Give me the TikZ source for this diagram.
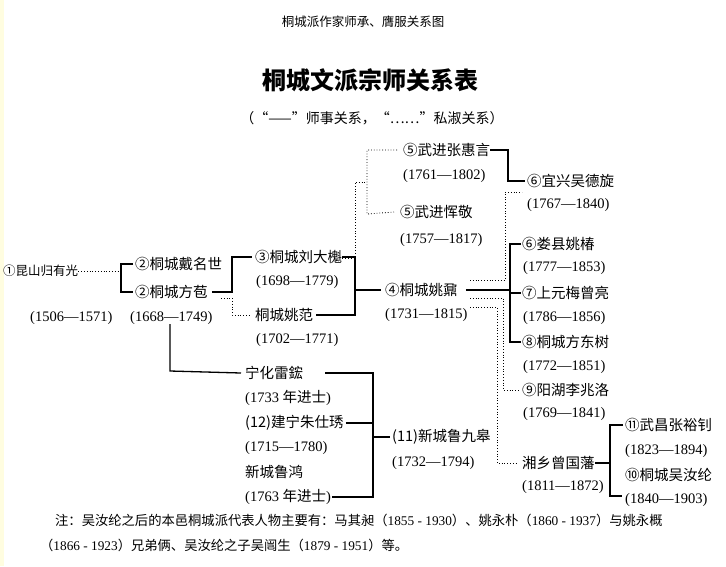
\documentclass[tikz,border=0pt]{standalone}
\usepackage{fontspec}
\setmainfont{Liberation Serif}
\newfontfamily\cjk{Noto Sans CJK SC}
\begin{document}
\begin{tikzpicture}[x=1pt,y=-1pt,
  nm/.style={anchor=west,inner sep=0pt,font=\cjk\fontsize{14.5}{14.5}\selectfont},
  dt/.style={anchor=west,inner sep=0pt,font=\fontsize{14.5}{14.5}\selectfont},
  sl/.style={draw,line width=1.3pt},
  dl/.style={draw,line width=0.8pt,dotted}]
\useasboundingbox[fill=white] (0,0) rectangle (726,566);
\fill[yellow!12] (0,0) rectangle (4,566);
\node[font=\cjk\fontsize{12.5}{12.5}\selectfont] (cap) at (363,22) {桐城派作家师承、膺服关系图};
\node[font=\cjk\bfseries\fontsize{24}{24}\selectfont] (title) at (370,80) {桐城文派宗师关系表};
\node[font=\cjk\fontsize{14}{14}\selectfont] (sub) at (372,118) {（“——”师事关系，“……”私淑关系）};
% left
\node[nm,font=\cjk\fontsize{12.5}{12.5}\selectfont] (gyg) at (3,271) {①昆山归有光};
\node[dt] (gygd) at (30,318) {(1506—1571)};
\node[nm] (dms) at (135,264) {②桐城戴名世};
\node[nm] (fb) at (135,292) {②桐城方苞};
\node[dt] (fbd) at (130,318) {(1668—1749)};
\node[nm] (ldk) at (255,257) {③桐城刘大櫆};
\node[dt] (ldkd) at (256,282) {(1698—1779)};
\node[nm] (yf) at (255,315) {桐城姚范};
\node[dt] (yfd) at (256,340) {(1702—1771)};
\node[nm] (yn) at (385,290) {④桐城姚鼐};
\node[dt] (ynd) at (385,315) {(1731—1815)};
\node[nm] (zhy) at (403,150) {⑤武进张惠言};
\node[dt] (zhyd) at (403,176) {(1761—1802)};
\node[nm] (yj) at (400,212) {⑤武进恽敬};
\node[dt] (yjd) at (400,240) {(1757—1817)};
\node[nm] (wdx) at (527,181) {⑥宜兴吴德旋};
\node[dt] (wdxd) at (527,205) {(1767—1840)};
\node[nm] (yc) at (522,244) {⑥娄县姚椿};
\node[dt] (ycd) at (523,268) {(1777—1853)};
\node[nm] (mzl) at (522,293) {⑦上元梅曾亮};
\node[dt] (mzld) at (523,318) {(1786—1856)};
\node[nm] (fds) at (522,342) {⑧桐城方东树};
\node[dt] (fdsd) at (523,367) {(1772—1851)};
\node[nm] (lzl) at (522,390) {⑨阳湖李兆洛};
\node[dt] (lzld) at (523,414) {(1769—1841)};
\node[nm] (zgf) at (522,463) {湘乡曾国藩};
\node[dt] (zgfd) at (522,487) {(1811—1872)};
\node[nm] (zyz) at (625,425) {⑪武昌张裕钊};
\node[dt] (zyzd) at (625,451) {(1823—1894)};
\node[nm] (wrl) at (625,475) {⑩桐城吴汝纶};
\node[dt] (wrld) at (625,500) {(1840—1903)};
\node[nm] (lh) at (245,373) {宁化雷鋐};
\node[dt] (lhd) at (245,398) {(1733 {\cjk 年进士})};
\node[nm] (zsx) at (245,423) {(12)建宁朱仕琇};
\node[dt] (zsxd) at (245,448) {(1715—1780)};
\node[nm] (lhong) at (245,472) {新城鲁鸿};
\node[dt] (lhongd) at (245,497) {(1763 {\cjk 年进士})};
\node[nm] (ljg) at (392,437) {(11)新城鲁九皋};
\node[dt] (ljgd) at (392,463) {(1732—1794)};
\node[anchor=west,inner sep=0pt,font=\cjk\fontsize{13.3}{13.3}\selectfont] (note1) at (55,520) {注：吴汝纶之后的本邑桐城派代表人物主要有：马其昶（{\rmfamily 1855 - 1930}）、姚永朴（{\rmfamily 1860 - 1937}）与姚永概};
\node[anchor=west,inner sep=0pt,font=\cjk\fontsize{13.3}{13.3}\selectfont] (note2) at (40,545) {（{\rmfamily 1866 - 1923}）兄弟俩、吴汝纶之子吴闿生（{\rmfamily 1879 - 1951}）等。};
% helper coordinates
\coordinate (c121) at (121,0);
\coordinate (c355) at (355,0);
\coordinate (c373) at (373,0);
\coordinate (c510) at (510,0);
\coordinate (c610) at (610,0);
% connectors
\draw[dl] (gyg.east) -- (gyg.east -| c121);
\draw[sl] ([xshift=-2pt]dms.west) -- (dms.west -| c121) -- (fb.west -| c121) -- ([xshift=-2pt]fb.west);
\draw[sl] ([xshift=4pt]fb.east) -- (232,292) |- ([xshift=-3pt]ldk.west);
\draw[dl] (221,298) -- (232,298) |- ([xshift=-4pt]yf.west);
\draw[sl] (ldk.east) -- (ldk.east -| c355) -- (yf.east -| c355) -- ([xshift=3pt]yf.east);
\draw[sl] (yn.west -| c355) -- ([xshift=-4pt]yn.west);
\draw[dl] (ldk.east) ++(0,1) -- (355,258) -- (355,182) -- (367,182);
\draw[dl] ([xshift=-6pt]zhy.west) -- (367,150) -- (367,214) -- ([xshift=-6pt]yj.west);
\draw[sl] (zhy.east) -- (508,150) |- ([xshift=-2pt]wdx.west);
\draw[sl] ([xshift=8pt]yn.east) -- (yn.east -| c510);
\draw[sl] ([xshift=-1pt]yc.west) -- (yc.west -| c510) -- (fds.west -| c510) -- ([xshift=-1pt]fds.west);
\draw[sl] (mzl.west -| c510) -- ([xshift=-1pt]mzl.west);
\draw[dl] (470,280) -- (505,280) -- (505,192) -- (522,192);
\draw[dl] (470,298) -- (503,298) |- ([xshift=-2pt]lzl.west);
\draw[dl] (470,307) -- (497,307) |- ([xshift=-5pt]zgf.west);
\draw[sl] (zgf.east) -- (zgf.east -| c610);
\draw[sl] ([xshift=-2pt]zyz.west) -- (zyz.west -| c610) -- (610,496) -- (622,496);
\draw[sl] (170,324) -- (170,371) -- ([xshift=-4pt]lh.west);
\draw[sl] ([xshift=22pt]lh.east) -- (lh.east -| c373) -- (lhongd.east -| c373) -- ([xshift=1pt]lhongd.east);
\draw[sl] ([xshift=2pt]zsx.east) -- (zsx.east -| c373);
\draw[sl] (ljg.west -| c373) -- ([xshift=-2pt]ljg.west);
\end{tikzpicture}
\end{document}
